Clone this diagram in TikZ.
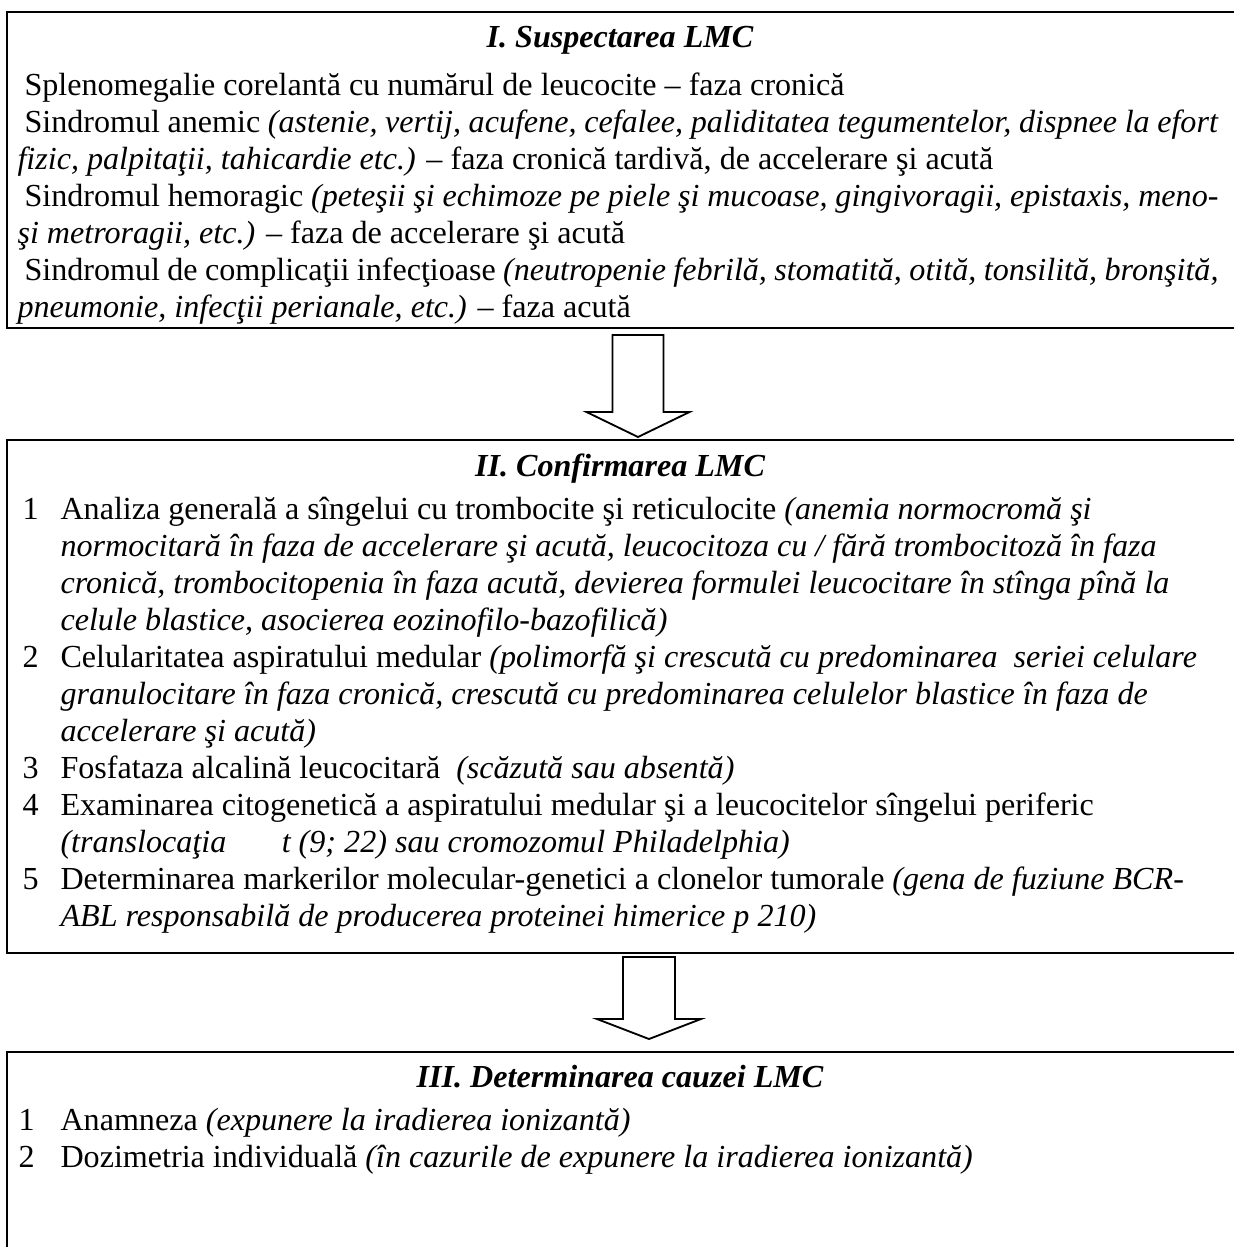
\documentclass[tikz,border=0pt]{standalone}
\usepackage{fontspec}
\setmainfont{Liberation Serif}
\tikzset{
  boxline/.style={line width=1.1pt},
  blockarrow/.style={line width=0.7pt, line join=miter},
  txt/.style={anchor=base west, inner sep=0pt, font=\fontsize{12.2}{14}\selectfont},
  ttl/.style={anchor=base, inner sep=0pt, font=\fontsize{12.2}{14}\selectfont\bfseries\itshape}
}
\newcommand{\jline}[1]{\makebox[453.7pt][s]{#1}}

\begin{document}
\begin{tikzpicture}[x=0.38pt,y=-0.38pt]
\useasboundingbox (0,0) rectangle (1233,1247);
\draw[boxline] (7,12) rectangle (1250,328);
\draw[boxline] (7,440) rectangle (1250,953);
\draw[boxline] (7,1052) rectangle (1250,1270);
\coordinate (ar1) at (638,335);
\coordinate (ar2) at (649,957);
\draw[blockarrow] (ar1) ++(-25.5,0) -- ++(0,77) -- ++(-26,0) -- ++(51.5,25) -- ++(51.5,-25) -- ++(-26,0) -- ++(0,-77) -- cycle;
\draw[blockarrow] (ar2) ++(-26,0) -- ++(0,62) -- ++(-26,0) -- ++(52,20) -- ++(52,-20) -- ++(-26,0) -- ++(0,-62) -- cycle;
\node[ttl] (t1) at (620,47) {I. Suspectarea LMC};
\node[txt] (s1) at (24,95) {Splenomegalie corelantă cu numărul de leucocite – faza cronică};
\node[txt] (s2) at (24,132) {\jline{Sindromul anemic \textit{(astenie, vertij, acufene, cefalee, paliditatea tegumentelor, dispnee la efort}}};
\node[txt] (s3) at (17,169) {\textit{fizic, palpitaţii, tahicardie etc.)} – faza cronică tardivă, de accelerare şi acută};
\node[txt] (s4) at (24,206) {\jline{Sindromul hemoragic \textit{(peteşii şi echimoze pe piele şi mucoase, gingivoragii, epistaxis, meno-}}};
\node[txt] (s5) at (17,243) {\textit{şi metroragii, etc.)} – faza de accelerare şi acută};
\node[txt] (s6) at (24,280) {\jline{Sindromul de complicaţii infecţioase \textit{(neutropenie febrilă, stomatită, otită, tonsilită, bronşită,}}};
\node[txt] (s7) at (17,317) {\textit{pneumonie, infecţii perianale, etc.)} – faza acută};
\node[ttl] (t2) at (620,476) {II. Confirmarea LMC};
\node[txt] (n1) at (22,519) {1};
\node[txt] (c1) at (60,519) {Analiza generală a sîngelui cu trombocite şi reticulocite \textit{(anemia normocromă şi}};
\node[txt] (c2) at (60,556) {\textit{normocitară în faza de accelerare şi acută, leucocitoza cu / fără trombocitoză în faza}};
\node[txt] (c3) at (60,593) {\textit{cronică, trombocitopenia în faza acută, devierea formulei leucocitare în stînga pînă la}};
\node[txt] (c4) at (60,630) {\textit{celule blastice, asocierea eozinofilo-bazofilică)}};
\node[txt] (n2) at (22,667) {2};
\node[txt] (c5) at (60,667) {Celularitatea aspiratului medular \textit{(polimorfă şi crescută cu predominarea \ seriei celulare}};
\node[txt] (c6) at (60,704) {\textit{granulocitare în faza cronică, crescută cu predominarea celulelor blastice în faza de}};
\node[txt] (c7) at (60,741) {\textit{accelerare şi acută)}};
\node[txt] (n3) at (22,778) {3};
\node[txt] (c8) at (60,778) {Fosfataza alcalină leucocitară \ \textit{(scăzută sau absentă)}};
\node[txt] (n4) at (22,815) {4};
\node[txt] (c9) at (60,815) {Examinarea citogenetică a aspiratului medular şi a leucocitelor sîngelui periferic};
\node[txt] (c10) at (60,852) {\textit{(translocaţia\hspace{18pt} t (9; 22) sau cromozomul Philadelphia)}};
\node[txt] (n5) at (22,889) {5};
\node[txt] (c11) at (60,889) {Determinarea markerilor molecular-genetici a clonelor tumorale \textit{(gena de fuziune BCR-}};
\node[txt] (c12) at (60,926) {\textit{ABL responsabilă de producerea proteinei himerice p 210)}};
\node[ttl] (t3) at (620,1087) {III. Determinarea cauzei LMC};
\node[txt] (m1) at (18,1130) {1};
\node[txt] (d1) at (60,1130) {Anamneza \textit{(expunere la iradierea ionizantă)}};
\node[txt] (m2) at (18,1167) {2};
\node[txt] (d2) at (60,1167) {Dozimetria individuală \textit{(în cazurile de expunere la iradierea ionizantă)}};
\end{tikzpicture}
\end{document}
